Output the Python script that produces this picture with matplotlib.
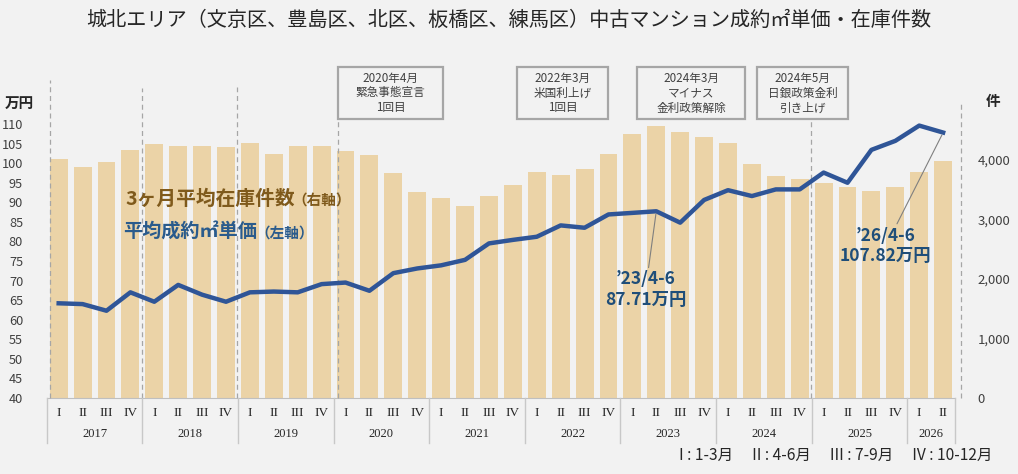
import numpy as np
import matplotlib.pyplot as plt
from matplotlib.patches import Rectangle
from matplotlib.transforms import blended_transform_factory

plt.rcParams['font.family'] = ['Noto Sans CJK JP', 'DejaVu Sans']

years = ['2017', '2018', '2019', '2020', '2021', '2022', '2023', '2024', '2025', '2026']
quarters = ['I', 'II', 'III', 'IV']
n_quarters = [4, 4, 4, 4, 4, 4, 4, 4, 4, 2]

# 3ヶ月平均在庫件数（右軸）
inventory = [4011, 3882, 3966, 4168,
             4269, 4235, 4235, 4218,
             4286, 4101, 4235, 4235,
             4151, 4084, 3787, 3462,
             3361, 3227, 3395, 3580,
             3798, 3748, 3849, 4101,
             4437, 4571, 4471, 4387,
             4286, 3933, 3731, 3681,
             3619, 3541, 3485, 3541,
             3798, 3983]

# 平均成約㎡単価（左軸）
price = [64.2, 64.0, 62.3, 67.0,
         64.6, 68.9, 66.4, 64.6,
         67.0, 67.2, 67.0, 69.1,
         69.5, 67.4, 71.9, 73.1,
         73.9, 75.3, 79.5, 80.4,
         81.2, 84.1, 83.5, 86.9,
         87.3, 87.71, 84.8, 90.6,
         93.1, 91.6, 93.3, 93.3,
         97.6, 95.0, 103.4, 105.7,
         109.6, 107.82]

events = ['2020年4月\n緊急事態宣言\n1回目', '2022年3月\n米国利上げ\n1回目',
          '2024年3月\nマイナス\n金利政策解除', '2024年5月\n日銀政策金利\n引き上げ']

bg = '#f2f2f2'
W, H = 1018, 474
x = np.arange(len(price))

fig = plt.figure(figsize=(W / 100, H / 100), dpi=100, facecolor=bg)
ax2 = fig.add_axes([0.0459, 0.1603, 0.8923, 0.654])
ax2.set_facecolor(bg)
ax = ax2.twinx()

ax2.bar(x, inventory, width=0.75, color='#ebd3a7', zorder=1)
ax.plot(x, price, color='#2f5597', linewidth=3.2, solid_joinstyle='round', zorder=3)

ax.set_xlim(-0.5, len(x) - 0.5)
ax.set_ylim(40, 119.2)
ax2.set_ylim(0, 5210)

# left axis = price, right axis = inventory
ax.yaxis.tick_left()
ax2.yaxis.tick_right()
ax.set_yticks(np.arange(40, 111, 5))
ax2.set_yticks(np.arange(0, 4001, 1000))
ax2.set_yticklabels(['0', '1,000', '2,000', '3,000', '4,000'])
ax.tick_params(axis='y', length=0, pad=17, labelsize=9.2, labelcolor='#404040')
ax2.tick_params(axis='y', length=0, pad=16, labelsize=9.5, labelcolor='#404040')
for a in (ax, ax2):
    for s in a.spines.values():
        s.set_visible(False)
ax2.spines['bottom'].set_visible(True)
ax2.spines['bottom'].set_color('#bfbfbf')
ax2.set_xticks([])
ax.set_xticks([])

fig.text(19 / W, 1 - 103 / H, '万円', ha='center', va='center', fontsize=10.5, fontweight='bold', color='#262626')
fig.text(993 / W, 1 - 101 / H, '件', ha='center', va='center', fontsize=10.5, fontweight='bold', color='#262626')

# category table under the axis
tr = blended_transform_factory(ax.transData, ax.transAxes)
ax_h = 310.0
y_q = -15 / ax_h
y_y = -36 / ax_h
y_bot = -45 / ax_h
i = 0
bounds = [-0.5]
for yr, nq in zip(years, n_quarters):
    for q in range(nq):
        ax.text(i + q, y_q, quarters[q], transform=tr, ha='center', va='center',
                fontsize=9.5, family='Liberation Serif', color='#262626')
    ax.text(i + (nq - 1) / 2, y_y, yr, transform=tr, ha='center', va='center',
            fontsize=9, family='Liberation Serif', color='#262626')
    i += nq
    bounds.append(i - 0.5)
for b in bounds:
    ax.plot([b, b], [0, y_bot], transform=tr, color='#c8c8c8', linewidth=1, clip_on=False)

# dashed reference lines
dash_x = [-0.36, 3.5, 7.48, 11.7, 31.46, 37.74]
dash_top = [80, 88, 87, 70, 120, 102]
for dx, dt in zip(dash_x, dash_top):
    ax.plot([dx, dx], [0, (398 - dt) / ax_h], transform=tr, color='#a6a6a6',
            linewidth=0.9, linestyle=(0, (4, 3)), clip_on=False, zorder=0)

# event boxes
box_left = [338, 517, 637, 757]
box_right = [443, 608, 745, 848]
for txt, bl, br in zip(events, box_left, box_right):
    fig.patches.append(Rectangle((bl / W, 1 - 119 / H), (br - bl) / W, 52 / H,
                                 transform=fig.transFigure, facecolor=bg,
                                 edgecolor='#a6a6a6', linewidth=1.6))
    fig.text((bl + br) / 2 / W, 1 - 93 / H, txt, ha='center', va='center', fontsize=8.4,
             color='#404040', linespacing=1.2)

# series labels
fig.text(125 / W, 1 - 199 / H, '3ヶ月平均在庫件数', ha='left', va='center',
         fontsize=14.2, fontweight='bold', color='#7f5a1c')
fig.text(292 / W, 1 - 200 / H, '（右軸）', ha='left', va='center',
         fontsize=10.5, fontweight='bold', color='#7f5a1c')
fig.text(123 / W, 1 - 232 / H, '平均成約㎡単価', ha='left', va='center',
         fontsize=13.8, fontweight='bold', color='#2a5b8c')
fig.text(255 / W, 1 - 233 / H, '（左軸）', ha='left', va='center',
         fontsize=10.5, fontweight='bold', color='#2a5b8c')

# annotations
ann_color = '#1f4e79'
ax.annotate("’23/4-6\n87.71万円", xy=(25, price[25]), xytext=(24.55, 72.6),
            ha='center', va='top', fontsize=12.5, fontweight='bold', color=ann_color,
            linespacing=1.2,
            arrowprops=dict(arrowstyle='-', color='#7f7f7f', linewidth=0.8, shrinkA=0, shrinkB=2))
ax.annotate("’26/4-6\n107.82万円", xy=(37, price[37]), xytext=(34.6, 83.8),
            ha='center', va='top', fontsize=12.5, fontweight='bold', color=ann_color,
            linespacing=1.2,
            arrowprops=dict(arrowstyle='-', color='#7f7f7f', linewidth=0.8, shrinkA=0, shrinkB=2))

fig.text(509 / W, 1 - 20 / H,
         '城北エリア（文京区、豊島区、北区、板橋区、練馬区）中古マンション成約㎡単価・在庫件数',
         ha='center', va='center', fontsize=14.5, color='#262626')
fig.text(992 / W, 1 - 455 / H, 'I : 1-3月　 II : 4-6月　 III : 7-9月　 IV : 10-12月',
         ha='right', va='center', fontsize=11.2, color='#262626')

fig.savefig('out.png', dpi=100, facecolor=bg)
